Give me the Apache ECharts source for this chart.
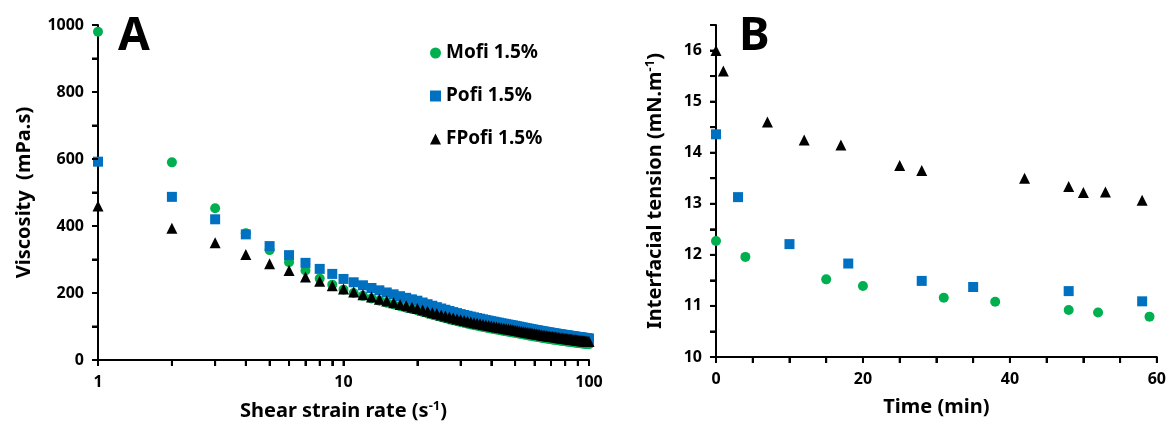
<!DOCTYPE html>
<html><head><meta charset="utf-8">
<script src="https://cdn.jsdelivr.net/npm/echarts@6/dist/echarts.min.js"></script>
<style>html,body{margin:0;padding:0;background:#fff}#c{width:1169px;height:428px}</style>
</head><body><div id="c"></div>
<script>
// Panel A: viscosity vs shear strain rate
const shearRate = [1,2,3,4,5,6,7,8,9,10,11,12,13,14,15,16,17,18,19,20,21,22,23,24,25,26,27,28,29,30,31,32,33,34,35,36,37,38,39,40,41,42,43,44,45,46,47,48,49,50,51,52,53,54,55,56,57,58,59,60,61,62,63,64,65,66,67,68,69,70,71,72,73,74,75,76,77,78,79,80,81,82,83,84,85,86,87,88,89,90,91,92,93,94,95,96,97,98,99,100];
const mofiVisc = [980,590,453,378,328,292,267,243,225,210,200.1,191.5,183.9,177.2,171.1,165.6,160.6,156.1,151.9,148,143.3,138.9,134.9,131.1,127.6,124.3,121.2,118.3,115.6,113,110.6,108.3,106.2,104.1,102.2,100.3,98.6,96.9,95.2,93.7,92.2,90.7,89.4,88.0,86.8,85.5,84.3,83.2,82.1,81,79.8,78.5,77.4,76.3,75.2,74.1,73.1,72.1,71.1,70.2,69.3,68.4,67.6,66.7,65.9,65.1,64.4,63.6,62.9,62.2,61.5,60.8,60.2,59.5,58.9,58.3,57.7,57.1,56.6,56.0,55.5,54.9,54.4,53.9,53.4,52.9,52.4,52.0,51.5,51.1,50.6,50.2,49.8,49.3,48.9,48.5,48.1,47.8,47.4,47];
const pofiVisc = [592,487,420,375,340,313,290,272,257,242,232,223,215,208,201.6,196,190.5,185.6,181,177,171.6,166.6,162,157.7,153.7,150,146.4,143,140,137,134.4,132.0,129.7,127.4,125.3,123.3,121.4,119.5,117.7,116.0,114.4,112.8,111.3,109.8,108.4,107.0,105.7,104.4,103.2,102,100.7,99.4,98.1,96.9,95.7,94.5,93.4,92.3,91.3,90.2,89.2,88.3,87.3,86.4,85.5,84.6,83.8,83.0,82.1,81.4,80.6,79.8,79.1,78.4,77.7,77.0,76.3,75.7,75.0,74.4,73.8,73.2,72.6,72.0,71.4,70.8,70.3,69.8,69.2,68.7,68.2,67.7,67.2,66.7,66.3,65.8,65.3,64.9,64.5,64];
const fpofiVisc = [460,393,350,315,287,267,248,235,222,212,202.9,194.9,187.8,181.5,175.9,170.7,166.0,161.7,157.7,154,149.4,145.2,141.3,137.7,134.3,131.1,128.0,125.2,122.5,120,117.7,115.6,113.5,111.5,109.7,107.9,106.1,104.5,102.9,101.4,99.9,98.6,97.2,95.9,94.7,93.5,92.3,91.2,90.1,89,87.8,86.6,85.5,84.4,83.3,82.3,81.3,80.3,79.3,78.4,77.5,76.6,75.8,75.0,74.2,73.4,72.6,71.9,71.2,70.5,69.8,69.1,68.4,67.8,67.2,66.5,65.9,65.4,64.8,64.2,63.7,63.1,62.6,62.1,61.6,61.1,60.6,60.1,59.6,59.2,58.7,58.3,57.8,57.4,57.0,56.6,56.2,55.8,55.4,55];
const shearTicks = [1,2,3,4,5,6,7,8,9,10,20,30,40,50,60,70,80,90,100];
const shearLabels = [1,10,100];
const viscTicks = [0,100,200,300,400,500,600,700,800,900,1000];

// Panel B: interfacial tension vs time
const timeMofi = [0,4,15,20,31,38,48,52,59];
const tensionMofi = [12.27,11.96,11.52,11.39,11.16,11.08,10.92,10.87,10.79];
const timePofi = [0,3,10,18,28,35,48,58];
const tensionPofi = [14.36,13.13,12.21,11.83,11.49,11.37,11.29,11.09];
const timeFPofi = [0,1,7,12,17,25,28,42,48,50,53,58];
const tensionFPofi = [16.0,15.6,14.6,14.25,14.15,13.75,13.65,13.5,13.34,13.22,13.23,13.07];
const timeTicks = [0,5,10,15,20,25,30,35,40,45,50,55,60];
const tensionTicks = [10,10.5,11,11.5,12,12.5,13,13.5,14,14.5,15,15.5,16,16.5];

const seriesNames = ['Mofi 1.5%','Pofi 1.5%','FPofi 1.5%'];
const colors = ['#00B050','#0070C0','#000000'];
const symbols = ['circle','rect','triangle'];

const FONT = 'Noto Sans';
const zip = (a,b) => a.map((v,i)=>[v,b[i]]);

const tickStyle = {show:true,inside:false,length:6,lineStyle:{color:'#000',width:2,opacity:1}};
const axisBase = {
  axisLine:{show:true,onZero:false,lineStyle:{color:'#000',width:2}},
  axisTick:tickStyle,
  splitLine:{show:false},
  axisLabel:{color:'#000',fontFamily:FONT,fontWeight:'bold',fontSize:16},
  nameTextStyle:{color:'#000',fontFamily:FONT,fontWeight:'bold',fontSize:20,
    rich:{sup:{fontFamily:FONT,fontWeight:'bold',fontSize:13,color:'#000',padding:[0,0,9,0]}}}
};

// tick marks drawn as small bars anchored at the axis values (through the axes' scales)
function tickSeries(xi, data, vertical){
  return {type:'scatter',xAxisIndex:xi,yAxisIndex:xi,silent:true,clip:false,z:5,
    symbol:'rect',symbolSize:vertical?[2,6]:[6,2],symbolOffset:vertical?[0,3]:[-3,0],
    itemStyle:{color:'#000',opacity:1},emphasis:{disabled:true},data:data};
}

const chart = echarts.init(document.getElementById('c'));
chart.setOption({
  animation:false,
  backgroundColor:'#fff',
  grid:[
    {left:98,top:25,width:491,height:335},
    {left:716,top:25,width:442,height:332}
  ],
  xAxis:[
    Object.assign({},axisBase,{gridIndex:0,type:'log',min:1,max:100,logBase:10,
      name:'Shear strain rate (s{sup|-1})',nameLocation:'middle',nameGap:40,
      axisTick:Object.assign({},tickStyle,{customValues:shearTicks}),
      axisLabel:Object.assign({},axisBase.axisLabel,{customValues:shearLabels,margin:14})}),
    Object.assign({},axisBase,{gridIndex:1,type:'value',min:0,max:60,interval:5,
      name:'Time (min)',nameLocation:'middle',nameGap:40,
      axisLabel:Object.assign({},axisBase.axisLabel,{margin:14,formatter:v=>v%20===0?String(v):''})})
  ],
  yAxis:[
    Object.assign({},axisBase,{gridIndex:0,type:'value',min:0,max:1000,interval:100,
      name:'Viscosity  (mPa.s)',nameLocation:'middle',nameGap:64,
      axisLabel:Object.assign({},axisBase.axisLabel,{margin:14,formatter:v=>v%200===0?String(v):''})}),
    Object.assign({},axisBase,{gridIndex:1,type:'value',min:10,max:16.5,interval:0.5,
      name:'Interfacial tension (mN.m{sup|-1})',nameLocation:'middle',nameGap:50,
      axisLabel:Object.assign({},axisBase.axisLabel,{margin:14,formatter:v=>Number.isInteger(v)?String(v):''})})
  ],
  legend:{
    left:425,top:38,orient:'vertical',itemGap:23,itemWidth:11,itemHeight:11,
    data:seriesNames.map((n,i)=>({name:n,icon:symbols[i],itemStyle:{color:colors[i],opacity:1}})),
    textStyle:{color:'#000',fontFamily:FONT,fontWeight:'bold',fontSize:19,lineHeight:20}
  },
  graphic:[
    {type:'text',left:118,top:14,style:{text:'A',font:'bold 46px "Noto Sans"',fill:'#000'}},
    {type:'text',left:739,top:14,style:{text:'B',font:'bold 46px "Noto Sans"',fill:'#000'}}
  ],
  series:[
    {name:seriesNames[0],type:'scatter',xAxisIndex:0,yAxisIndex:0,symbol:symbols[0],symbolSize:10,itemStyle:{color:colors[0],opacity:1},data:zip(shearRate,mofiVisc)},
    {name:seriesNames[1],type:'scatter',xAxisIndex:0,yAxisIndex:0,symbol:symbols[1],symbolSize:10,itemStyle:{color:colors[1],opacity:1},data:zip(shearRate,pofiVisc)},
    {name:seriesNames[2],type:'scatter',xAxisIndex:0,yAxisIndex:0,symbol:symbols[2],symbolSize:11,itemStyle:{color:colors[2],opacity:1},data:zip(shearRate,fpofiVisc)},
    {name:seriesNames[0],type:'scatter',xAxisIndex:1,yAxisIndex:1,symbol:symbols[0],symbolSize:10,itemStyle:{color:colors[0],opacity:1},data:zip(timeMofi,tensionMofi)},
    {name:seriesNames[1],type:'scatter',xAxisIndex:1,yAxisIndex:1,symbol:symbols[1],symbolSize:10,itemStyle:{color:colors[1],opacity:1},data:zip(timePofi,tensionPofi)},
    {name:seriesNames[2],type:'scatter',xAxisIndex:1,yAxisIndex:1,symbol:symbols[2],symbolSize:11,itemStyle:{color:colors[2],opacity:1},data:zip(timeFPofi,tensionFPofi)},
    tickSeries(0, shearTicks.map(t=>[t,0]), true),
    tickSeries(0, viscTicks.map(v=>[1,v]), false),
    tickSeries(1, timeTicks.map(t=>[t,10]), true),
    tickSeries(1, tensionTicks.map(v=>[0,v]), false)
  ]
});
</script></body></html>
